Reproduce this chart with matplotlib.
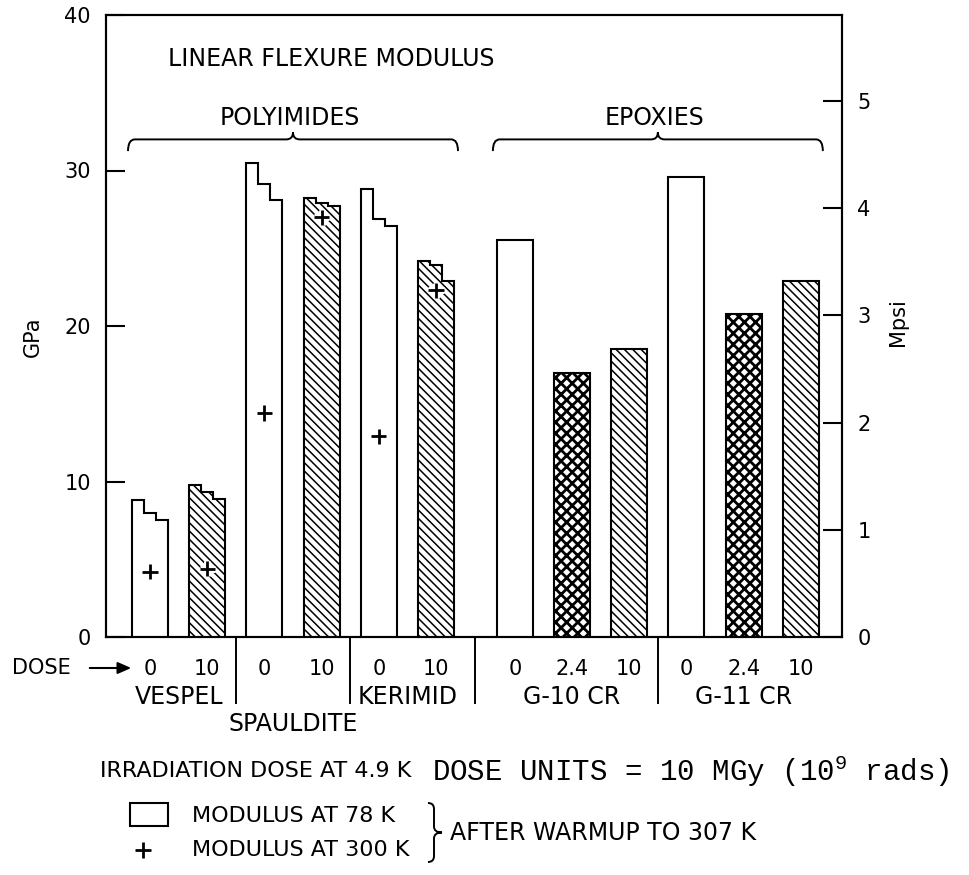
import matplotlib
matplotlib.use("Agg")
import matplotlib.pyplot as plt
import matplotlib.transforms as mtransforms
import matplotlib.patheffects as pe
from matplotlib.path import Path
from matplotlib.patches import PathPatch, Rectangle, FancyArrowPatch
from matplotlib.lines import Line2D

plt.rcParams['font.family'] = ['DejaVu Sans']
plt.rcParams['mathtext.fontset'] = 'custom'
plt.rcParams['mathtext.rm'] = 'Liberation Mono'
plt.rcParams['mathtext.it'] = 'Liberation Mono'
plt.rcParams['mathtext.bf'] = 'Liberation Mono'
plt.rcParams['hatch.linewidth'] = 1.1

# ---------------- data ----------------
materials = ['VESPEL', 'SPAULDITE', 'KERIMID', 'G-10 CR', 'G-11 CR']
material_family = [0, 0, 0, 1, 1]
families = ['POLYIMIDES', 'EPOXIES']
doses = [['0', '10'], ['0', '10'], ['0', '10'], ['0', '2.4', '10'], ['0', '2.4', '10']]
# modulus at 78 K (GPa); stepped tops show the individual measurements
modulus_78K = [
    [[8.8, 8.0, 7.5], [9.8, 9.3, 8.9]],
    [[30.5, 29.1, 28.1], [28.2, 27.9, 27.7]],
    [[28.8, 26.9, 26.4], [24.2, 23.9, 22.9]],
    [[25.5], [17.0], [18.5]],
    [[29.6], [20.8], [22.9]],
]
# modulus at 300 K (GPa), None = not measured
modulus_300K = [
    [4.2, 4.4],
    [14.4, 27.0],
    [12.9, 22.3],
    [None, None, None],
    [None, None, None],
]
gpa_ticks = [0, 10, 20, 30, 40]
mpsi_ticks = [0, 1, 2, 3, 4, 5]
GPA_PER_MPSI = 6.894757

hatch_for_dose = {'0': None, '2.4': 'xxx', '10': '\\\\\\\\'}
hatch_lw_for_dose = {'0': 1.1, '2.4': 2.0, '10': 1.1}

# ---------------- figure ----------------
W, H = 969, 875
fig = plt.figure(figsize=(W / 100, H / 100), dpi=100)
PX = mtransforms.Affine2D().scale(1 / W, -1 / H).translate(0, 1) + fig.transFigure

ax = fig.add_axes([106 / W, 1 - 637 / H, (842 - 106) / W, (637 - 15) / H])
ax.set_xlim(-0.77, 12.10)
ax.set_ylim(0, 40)

WORD = 17
NUM = 15

bar_w = 0.63
pos = -1.0
prev_fam = None
centers, labels, mat_centers, mat_edges = [], [], [], []
fam_span = {}
for m, name in enumerate(materials):
    fam = material_family[m]
    if prev_fam is not None and fam != prev_fam:
        pos += 0.38
    prev_fam = fam
    mpos = []
    for d, dose in enumerate(doses[m]):
        pos += 1.0
        mpos.append(pos)
        tops = modulus_78K[m][d]
        n = len(tops)
        left = pos - bar_w / 2
        edges = [left + bar_w * k / n for k in range(n + 1)]
        with plt.rc_context({'hatch.linewidth': hatch_lw_for_dose[dose]}):
            sp = ax.stairs(tops, edges, baseline=0, fill=True, facecolor='white',
                           edgecolor='black', linewidth=1.5,
                           hatch=hatch_for_dose[dose], zorder=2)
            if hasattr(sp, 'set_hatch_linewidth'):
                sp.set_hatch_linewidth(hatch_lw_for_dose[dose])
        v300 = modulus_300K[m][d]
        if v300 is not None:
            ax.plot([pos], [v300], marker='+', ms=11, mew=2, color='black',
                    linestyle='none', zorder=4,
                    path_effects=[pe.Stroke(linewidth=5, foreground='white'), pe.Normal()])
        centers.append(pos)
        labels.append(dose)
    mat_centers.append(sum(mpos) / len(mpos))
    mat_edges.append((mpos[0], mpos[-1]))
    lo, hi = fam_span.get(fam, (mpos[0], mpos[-1]))
    fam_span[fam] = (min(lo, mpos[0]), max(hi, mpos[-1]))

# axes styling
for s in ax.spines.values():
    s.set_linewidth(1.5)
ax.set_yticks(gpa_ticks)
ax.set_yticklabels([str(t) for t in gpa_ticks])
ax.tick_params(axis='y', direction='in', length=14, width=1.5, labelsize=NUM, pad=11)
ax.set_xticks(centers)
ax.set_xticklabels(labels)
ax.tick_params(axis='x', length=0, labelsize=NUM, pad=16)

ax2 = ax.twinx()
ax2.set_ylim(0, 40 / GPA_PER_MPSI)
ax2.set_yticks(mpsi_ticks)
ax2.set_yticklabels([str(t) for t in mpsi_ticks])
ax2.tick_params(axis='y', direction='in', length=14, width=1.5, labelsize=NUM, pad=11)
for s in ax2.spines.values():
    s.set_linewidth(1.5)

# brace helper
def brace_verts(a0, a1, bl, be, bp, r):
    am = (a0 + a1) / 2
    v = [(a0, be), (a0, bl), (a0 + r, bl), (am - r, bl), (am, bl), (am, bp),
         (am, bl), (am + r, bl), (a1 - r, bl), (a1, bl), (a1, be)]
    c = [Path.MOVETO, Path.CURVE3, Path.CURVE3, Path.LINETO, Path.CURVE3, Path.CURVE3,
         Path.CURVE3, Path.CURVE3, Path.LINETO, Path.CURVE3, Path.CURVE3]
    return v, c

# family braces and labels (inside axes, data coords)
for f, fname in enumerate(families):
    lo, hi = fam_span[f]
    x0 = lo - bar_w / 2 - 0.07
    x1 = hi + bar_w / 2 + 0.07
    v, c = brace_verts(x0, x1, 32.0, 31.25, 32.45, 0.12)
    ax.add_patch(PathPatch(Path(v, c), facecolor='none', edgecolor='black', lw=1.4, zorder=3))
    ax.text((x0 + x1) / 2 - 0.05, 33.4, fname, ha='center', va='center', fontsize=WORD)

# material labels and separators under the axis
xt = ax.get_xaxis_transform()
label_row_y = [-0.0965, -0.140, -0.0965, -0.0965, -0.0965]
for m, name in enumerate(materials):
    ax.text(mat_centers[m], label_row_y[m], name, transform=xt, ha='center',
            va='center', fontsize=WORD)
for m in range(len(materials) - 1):
    xs = (mat_edges[m][1] + mat_edges[m + 1][0]) / 2
    ax.add_line(Line2D([xs, xs], [0, -0.106], transform=xt, color='black',
                       lw=1.4, clip_on=False))

# annotations in pixel layout
fig.text(168, 59, 'LINEAR FLEXURE MODULUS', transform=PX, ha='left', va='center', fontsize=WORD)
fig.text(33, 337, 'GPa', transform=PX, rotation=90, ha='center', va='center', fontsize=NUM)
fig.text(898, 322, 'Mpsi', transform=PX, rotation=90, ha='center', va='center', fontsize=NUM)
fig.text(12, 668, 'DOSE', transform=PX, ha='left', va='center', fontsize=NUM)
fig.add_artist(FancyArrowPatch(
    (87, 668), (134, 668), transform=PX, arrowstyle='-|>,head_length=8,head_width=3.5',
    mutation_scale=1, color='black', lw=1.5))

fig.text(100, 771, 'IRRADIATION DOSE AT 4.9 K', transform=PX, ha='left', va='center', fontsize=16)
fig.text(432, 771, 'DOSE UNITS = 10 MGy (10$^{9}$ rads)', transform=PX, ha='left',
         va='center', fontsize=21, family='Liberation Mono')

fig.add_artist(Rectangle((130, 826), 38, -23, transform=PX, facecolor='white',
                         edgecolor='black', lw=1.5))
fig.add_artist(Line2D([143], [850], transform=PX, marker='+', ms=11, mew=2, color='black'))
fig.text(192, 816, 'MODULUS AT 78 K', transform=PX, ha='left', va='center', fontsize=16)
fig.text(192, 850, 'MODULUS AT 300 K', transform=PX, ha='left', va='center', fontsize=16)
v, c = brace_verts(803, 862, 434, 428, 442, 6)
v = [(b, a) for a, b in v]
fig.add_artist(PathPatch(Path(v, c), transform=PX, facecolor='none', edgecolor='black', lw=1.4))
fig.text(450, 833, 'AFTER WARMUP TO 307 K', transform=PX, ha='left', va='center', fontsize=WORD)

fig.savefig('out.png', dpi=100)
